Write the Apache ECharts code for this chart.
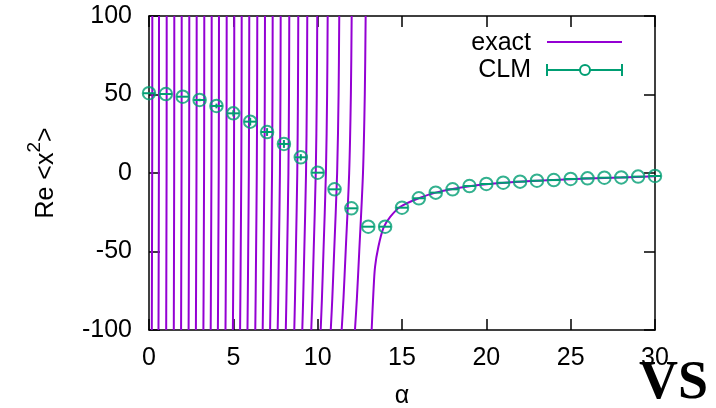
<!DOCTYPE html>
<html>
<head>
<meta charset="utf-8">
<script src="https://cdn.jsdelivr.net/npm/echarts@6/dist/echarts.min.js"></script>
<style>
html,body{margin:0;padding:0;background:#fff;}
#chart{width:716px;height:408px;}
</style>
</head>
<body>
<div id="chart"></div>
<script>
// ---- data ----
const xTicks = [0, 5, 10, 15, 20, 25, 30];
const yTicks = [-100, -50, 0, 50, 100];

// CLM points (alpha, Re <x^2>, error)
const clmAlpha = [0,1,2,3,4,5,6,7,8,9,10,11,12,13,14,15,16,17,18,19,20,21,22,23,24,25,26,27,28,29,30];
const clmRe    = [50.8,50.3,48.6,46.5,42.7,38.0,32.7,26.1,18.5,10.0,0.2,-10.4,-22.5,-34.2,-34.2,-22.1,-16.1,-12.5,-10.4,-8.3,-7.0,-6.2,-5.5,-4.9,-4.5,-3.8,-3.4,-3.0,-2.8,-2.3,-1.9];
const clmErr   = [0,0,0,0.8,1.5,2.0,2.5,2.5,2.5,2.0,0,0,0,0,0,0,0,0,0,0,0,0,0,0,0,0,0,0,0,0,0];

// exact result: steep branches between poles, alpha read at these Re levels
const exactLevels = [-100, -80, -50, 0, 50, 100];
const exactBranches = [
  [0.166, 0.171, 0.178, 0.189, 0.194, 0.196],
  [0.563, 0.568, 0.575, 0.586, 0.591, 0.593],
  [1.019, 1.024, 1.031, 1.042, 1.047, 1.049],
  [1.470, 1.475, 1.482, 1.493, 1.498, 1.500],
  [1.902, 1.908, 1.916, 1.929, 1.935, 1.938],
  [2.348, 2.355, 2.364, 2.379, 2.386, 2.389],
  [2.780, 2.788, 2.799, 2.815, 2.823, 2.827],
  [3.225, 3.235, 3.246, 3.265, 3.274, 3.278],
  [3.657, 3.668, 3.681, 3.701, 3.711, 3.716],
  [4.084, 4.096, 4.110, 4.133, 4.144, 4.149],
  [4.535, 4.548, 4.563, 4.588, 4.600, 4.606],
  [4.973, 4.988, 5.006, 5.035, 5.049, 5.056],
  [5.400, 5.417, 5.438, 5.471, 5.487, 5.495],
  [5.838, 5.857, 5.881, 5.918, 5.936, 5.945],
  [6.301, 6.322, 6.349, 6.390, 6.410, 6.420],
  [6.740, 6.764, 6.794, 6.842, 6.865, 6.876],
  [7.179, 7.207, 7.241, 7.295, 7.321, 7.333],
  [7.629, 7.661, 7.700, 7.763, 7.793, 7.807],
  [8.110, 8.147, 8.193, 8.265, 8.300, 8.317],
  [8.613, 8.656, 8.708, 8.791, 8.831, 8.850],
  [9.088, 9.141, 9.206, 9.310, 9.360, 9.384],
  [9.620, 9.684, 9.762, 9.887, 9.948, 9.976],
  [10.178, 10.253, 10.344, 10.489, 10.560, 10.593],
  [10.776, 10.867, 10.978, 11.154, 11.240, 11.280],
  [11.423, 11.530, 11.660, 11.868, 11.969, 12.016],
  [12.211, 12.325, 12.465, 12.687, 12.794, 12.845]
];
// last branch, rising from the final pole toward zero
const exactTailAlpha = [13.2, 13.3, 13.4, 13.6, 13.9, 14.3, 14.9, 16, 17, 18, 19, 20, 22, 24, 26, 28, 30];
const exactTailRe    = [-100, -77, -60, -47, -35, -28, -21.5, -16, -12.5, -10.2, -8.4, -7.1, -5.5, -4.4, -3.5, -2.8, -2.1];

// ---- chart ----
const PURPLE = '#9400d3';
const GREEN = '#009e73';
const FONT = 'Liberation Sans, Arial, sans-serif';

const chart = echarts.init(document.getElementById('chart'), null, {renderer: 'canvas'});

const series = [];
exactBranches.forEach(function (br) {
  series.push({
    type: 'line', xAxisIndex: 0, yAxisIndex: 0,
    data: exactLevels.map(function (v, i) { return [br[i], v]; }),
    showSymbol: false, symbol: 'none', smooth: 0.3,
    lineStyle: {color: PURPLE, width: 2}, z: 2, silent: true
  });
});
series.push({
  type: 'line', xAxisIndex: 0, yAxisIndex: 0,
  data: exactTailAlpha.map(function (a, i) { return [a, exactTailRe[i]]; }),
  showSymbol: false, symbol: 'none', smooth: 0.3,
  lineStyle: {color: PURPLE, width: 2}, z: 2, silent: true
});
// error bars
series.push({
  type: 'custom', xAxisIndex: 0, yAxisIndex: 0, z: 4, silent: true,
  data: clmAlpha.map(function (a, i) { return [a, clmRe[i], clmErr[i]]; }),
  renderItem: function (params, api) {
    const x = api.value(0), y = api.value(1), e = api.value(2);
    const c = api.coord([x, y]);
    const lo = api.coord([x, y - e]);
    const hi = api.coord([x, y + e]);
    const r = 6;
    const st = {stroke: GREEN, lineWidth: 2, fill: null};
    return {
      type: 'group',
      children: [
        {type: 'line', shape: {x1: c[0] - r, y1: c[1], x2: c[0] + r, y2: c[1]}, style: st},
        {type: 'line', shape: {x1: lo[0], y1: lo[1], x2: hi[0], y2: hi[1]}, style: st}
      ]
    };
  }
});
series.push({
  type: 'scatter', xAxisIndex: 0, yAxisIndex: 0, z: 5, silent: true,
  data: clmAlpha.map(function (a, i) { return [a, clmRe[i]]; }),
  symbol: 'circle', symbolSize: 12.5,
  itemStyle: {color: 'rgba(0,0,0,0)', borderColor: GREEN, borderWidth: 2}
});

function axisBase(extra) {
  return Object.assign({
    type: 'value',
    axisLine: {show: true, onZero: false, lineStyle: {color: '#000', width: 1.5}},
    axisTick: {show: true, inside: true, length: 11, lineStyle: {color: '#000', width: 1.5}},
    splitLine: {show: false}
  }, extra);
}

const option = {
  animation: false,
  backgroundColor: '#fff',
  grid: {left: 149, right: 61, top: 16, bottom: 78, containLabel: false, outerBoundsMode: 'none'},
  xAxis: [
    axisBase({
      position: 'bottom', min: xTicks[0], max: xTicks[xTicks.length - 1], interval: xTicks[1] - xTicks[0],
      axisLabel: {fontSize: 25, color: '#000', fontFamily: FONT, margin: 16},
      name: 'α', nameLocation: 'middle', nameGap: 54,
      nameTextStyle: {fontSize: 25, color: '#000', fontFamily: FONT}
    }),
    axisBase({
      position: 'top', min: xTicks[0], max: xTicks[xTicks.length - 1], interval: xTicks[1] - xTicks[0],
      axisLabel: {show: false}
    })
  ],
  yAxis: [
    axisBase({
      position: 'left', min: yTicks[0], max: yTicks[yTicks.length - 1], interval: yTicks[1] - yTicks[0],
      axisLabel: {fontSize: 25, color: '#000', fontFamily: FONT, margin: 17},
      name: '{b|Re <x}{sup|2}{b|>}', nameLocation: 'middle', nameGap: 90,
      nameTextStyle: {
        fontSize: 25, color: '#000', fontFamily: FONT,
        rich: {
          b: {fontSize: 25, color: '#000', fontFamily: FONT, lineHeight: 34, verticalAlign: 'bottom'},
          sup: {fontSize: 19, color: '#000', fontFamily: FONT, lineHeight: 19, verticalAlign: 'top'}
        }
      }
    }),
    axisBase({
      position: 'right', min: yTicks[0], max: yTicks[yTicks.length - 1], interval: yTicks[1] - yTicks[0],
      axisLabel: {show: false}
    })
  ],
  series: series,
  graphic: [
    {type: 'text', x: 531, y: 43, style: {text: 'exact', font: '25px ' + FONT, fill: '#000', align: 'right', verticalAlign: 'middle'}, z: 10},
    {type: 'line', shape: {x1: 547, y1: 42, x2: 622, y2: 42}, style: {stroke: PURPLE, lineWidth: 2}, z: 10},
    {type: 'text', x: 531, y: 70, style: {text: 'CLM', font: '25px ' + FONT, fill: '#000', align: 'right', verticalAlign: 'middle'}, z: 10},
    {type: 'line', shape: {x1: 547, y1: 70, x2: 622, y2: 70}, style: {stroke: GREEN, lineWidth: 2}, z: 10},
    {type: 'line', shape: {x1: 547, y1: 64, x2: 547, y2: 76}, style: {stroke: GREEN, lineWidth: 2}, z: 10},
    {type: 'line', shape: {x1: 622, y1: 64, x2: 622, y2: 76}, style: {stroke: GREEN, lineWidth: 2}, z: 10},
    {type: 'circle', shape: {cx: 585, cy: 70, r: 5}, style: {stroke: GREEN, lineWidth: 2, fill: '#fff'}, z: 11},
    {type: 'text', x: 708, y: 411, style: {text: 'VS', font: 'bold 54px Liberation Serif, serif', fill: '#000', align: 'right', verticalAlign: 'bottom'}, z: 10}
  ]
};
chart.setOption(option);
</script>
</body>
</html>
